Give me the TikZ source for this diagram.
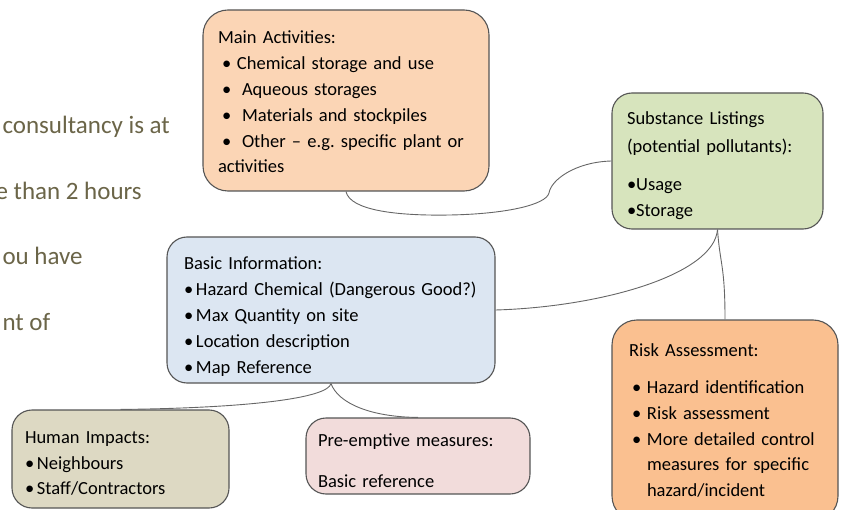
\documentclass[tikz,border=0pt]{standalone}
\usepackage{fontspec}
\setmainfont{Carlito}
\usepackage{tikz}
\usetikzlibrary{positioning}
\definecolor{mpeach}{RGB}{251,213,181}
\definecolor{mgreen}{RGB}{215,228,189}
\definecolor{mblue}{RGB}{220,230,242}
\definecolor{mtan}{RGB}{221,217,195}
\definecolor{mpink}{RGB}{242,220,219}
\definecolor{morange}{RGB}{250,192,144}
\definecolor{mline}{RGB}{85,85,85}
\definecolor{molive}{RGB}{107,101,72}
\frenchspacing
\tikzset{box/.style = {draw=mline, line width=1.1pt, rounded corners=20pt,
                       align=left, inner ysep=0pt,
                       font=\fontsize{18.5}{25.8}\selectfont},
         link/.style = {draw=mline!90, line width=0.9pt},
         side/.style = {anchor=base west, text=molive,
                        font=\fontsize{25}{30}\selectfont}}
\newcommand{\itm}[2][15pt]{\mbox{\makebox[#1][l]{•}#2}}
\newcommand{\topgap}[1]{\rule{0pt}{#1}}

\begin{document}
\begin{tikzpicture}[x=1pt, y=-1pt]
      \useasboundingbox (0, 0) rectangle (842, 510);
      \clip (0, 0) rectangle (842, 510);

      \node [side] (t1) at (-1, 134) {consultancy is at};
      \node [side] (t2) at (-8, 200) {e than 2 hours};
      \node [side] (t3) at (-1, 265) {ou have};
      \node [side] (t4) at (-1, 330) {nt of};

      \node [box, fill=mpeach, rounded corners=25pt, inner xsep=15pt,
             text width=256pt, minimum height=181pt] (main) at (346, 100.5)
            {\topgap{16pt}Main Activities:\\
             \hspace*{4pt}\itm{Chemical storage and use}\\
             \hspace*{4pt}\itm[20pt]{Aqueous storages}\\
             \hspace*{4pt}\itm[20pt]{Materials and stockpiles}\\
             \hspace*{4pt}\itm[20pt]{Other – e.g. specific plant or}\\
             activities};

      \node [box, fill=mgreen, inner xsep=15pt,
             text width=181pt, minimum height=136pt] (subst) at (717.5, 161)
            {\topgap{22pt}Substance Listings\\[2pt]
             (potential pollutants):\\[12pt]
             •Usage\\
             •Storage};

      \node [box, fill=mblue, inner xsep=17pt,
             text width=294pt, minimum height=146pt] (basic) at (331, 310)
            {\topgap{26pt}Basic Information:\\
             \itm[12pt]{Hazard Chemical (Dangerous Good?)}\\
             \itm[12pt]{Max Quantity on site}\\
             \itm[12pt]{Location description}\\
             \itm[12pt]{Map Reference}};

      \node [box, fill=mtan, inner xsep=13pt,
             text width=191pt, minimum height=98pt] (human) at (120.5, 459)
            {\topgap{21pt}Human Impacts:\\
             \itm[12pt]{Neighbours}\\
             \itm[12pt]{Staff/Contractors}};

      \node [box, fill=mpink, inner xsep=12pt,
             text width=200pt, minimum height=76pt] (pre) at (418, 456)
            {\topgap{22pt}Pre-emptive measures:\\[14.5pt]
             Basic reference};

      \node [box, fill=morange, rounded corners=25pt, inner xsep=17pt,
             text width=192pt, minimum height=201pt] (risk) at (725, 420.5)
            {Risk Assessment:\\[11.5pt]
             \hspace*{3pt}\itm{Hazard identification}\\
             \hspace*{3pt}\itm{Risk assessment}\\
             \hspace*{3pt}\itm{More detailed control}\\
             \hspace*{18pt}measures for specific\\
             \hspace*{18pt}hazard/incident};

      \draw [link] (main.south) .. controls (350, 210) and (395, 216) .. (450, 215)
                   .. controls (505, 214) and (546, 205) .. (549, 193)
                   .. controls (551, 180) and (575, 162) .. (subst.west);
      \draw [link] (subst.south) .. controls (714, 275) and (600, 307) .. (basic.east);
      \draw [link] (subst.south) .. controls (720, 265) and (725, 265) .. (risk.north);
      \draw [link] (basic.south) .. controls (328, 398) and (250, 408) .. (human.north);
      \draw [link] (basic.south) .. controls (338, 403) and (370, 417) .. (pre.north);
    \end{tikzpicture}
\end{document}
